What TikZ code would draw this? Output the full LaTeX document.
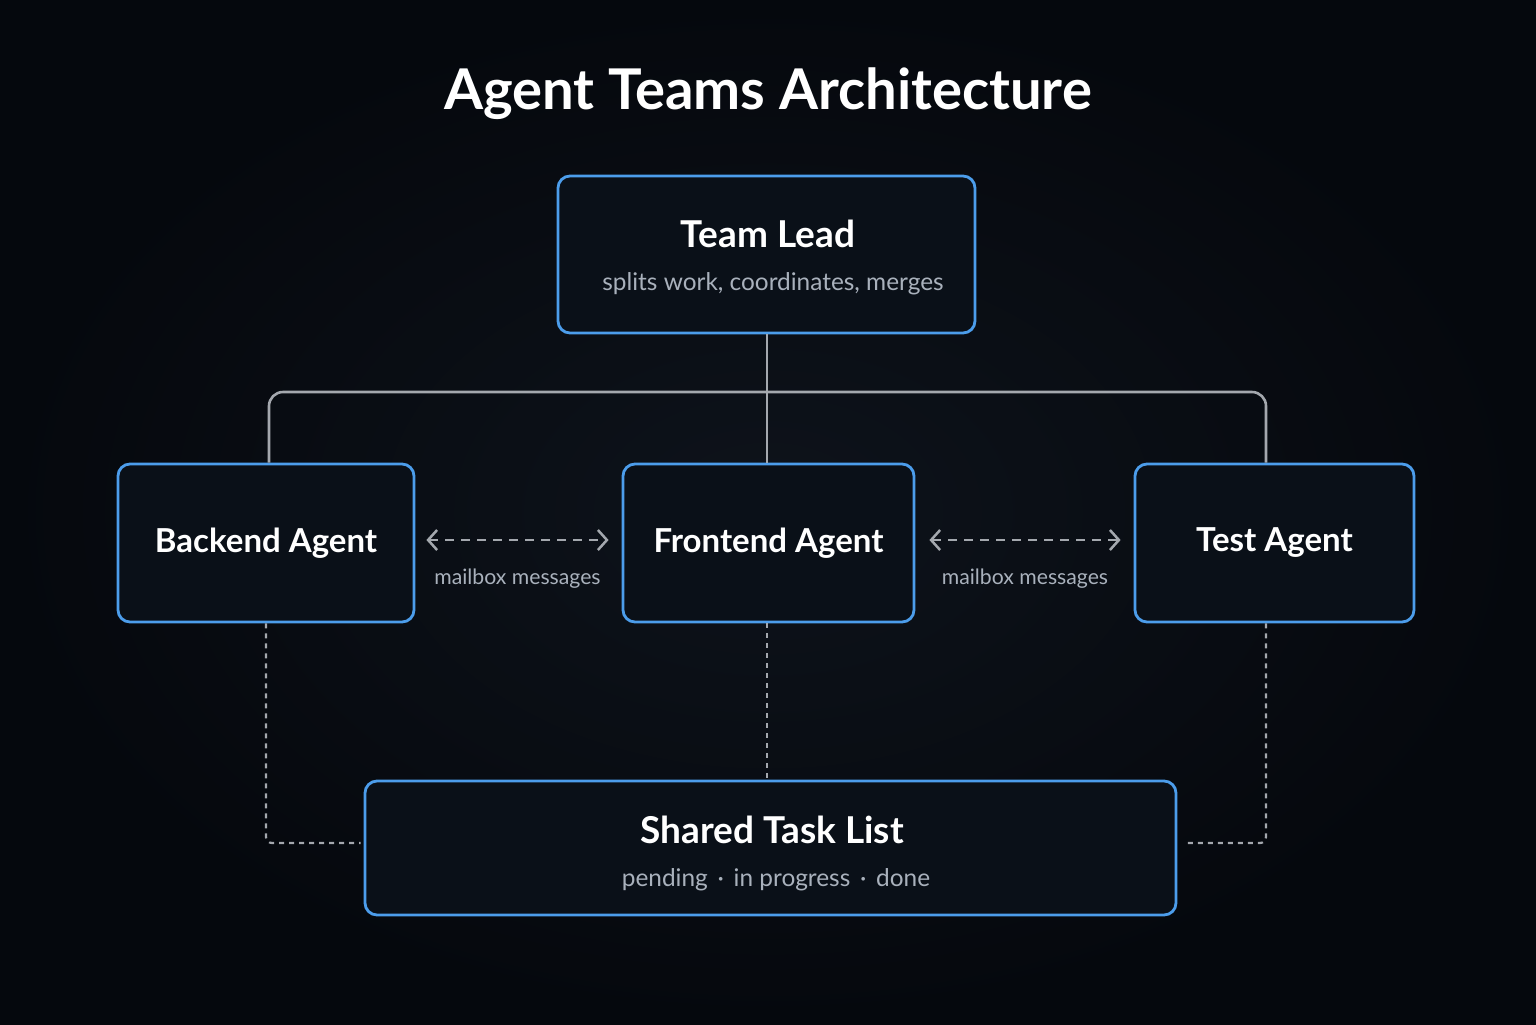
\documentclass[tikz,border=0pt]{standalone}
\usepackage{fontspec}
\setmainfont{Lato}
\usepackage{tikz}
\usetikzlibrary{arrows.meta,positioning}
\definecolor{PageInk}{HTML}{05080D}
\definecolor{PageGlow}{HTML}{0E131B}
\definecolor{BoxFill}{HTML}{0A1018}
\definecolor{BoxBlue}{HTML}{4C9DEB}
\definecolor{LinkGrey}{HTML}{A4A8AE}
\definecolor{NoteGrey}{HTML}{A9B1BC}

\tikzset{
  agent/.style={draw=BoxBlue, line width=1.4pt, fill=BoxFill, rounded corners=6pt,
    minimum height=79pt, inner sep=0pt, text=white, font=\bfseries\fontsize{16.5}{20}\selectfont},
  headline/.style={text=white, inner sep=0pt, font=\bfseries\fontsize{18.5}{22}\selectfont},
  subline/.style={text=NoteGrey, inner sep=0pt, font=\fontsize{12.2}{15}\selectfont},
  tree/.style={LinkGrey, line width=1.3pt, rounded corners=7pt},
  mail/.style={LinkGrey, line width=1.25pt, dash pattern=on 4.5pt off 3.5pt,
    {Straight Barb[length=4.5pt,width=10pt]}-{Straight Barb[length=4.5pt,width=10pt]}},
  mailnote/.style={text=NoteGrey, font=\fontsize{10.6}{13}\selectfont},
  taskline/.style={LinkGrey, line width=1.1pt, dash pattern=on 2.5pt off 2.5pt, rounded corners=3pt},
}

\begin{document}
\begin{tikzpicture}[x=0.5pt,y=-0.5pt]
  % page
  \shade[inner color=PageGlow, outer color=PageInk] (0,0) rectangle (1536,1024);
  \useasboundingbox (0,0) rectangle (1536,1024);

  \node[text=white, font=\bfseries\fontsize{28.1}{34}\selectfont] (heading) at (768,94) {Agent Teams Architecture};

  % boxes
  \node[agent, minimum width=208.5pt, minimum height=78.5pt] (lead) at (766.5,254.5) {};
  \node[headline] (leadname) at (768,234) {Team Lead};
  \node[subline] (leadnote) at (773,284) {splits work, coordinates, merges};

  \node[agent, minimum width=148pt] (backend) at (266,543) {Backend Agent};
  \node[agent, minimum width=145.5pt] (frontend) at (768.5,543) {Frontend Agent};
  \node[agent, minimum width=139.5pt] (tester) at (1274.5,543) {Test Agent};

  \node[agent, minimum width=405.5pt, minimum height=67pt] (tasks) at (770.5,848) {};
  \node[headline] (tasksname) at (772,830) {Shared Task List};
  \node[subline] (tasksnote) at (776,880)
    {pending\hspace{0.4em}·\hspace{0.4em}in progress\hspace{0.4em}·\hspace{0.4em}done};

  % lead to agents
  \coordinate (split) at (767,392);
  \draw[tree] (split |- lead.south) -- (split);
  \draw[tree] (split) -| ([xshift=1.5pt]backend.north);
  \draw[tree] (split) -- (split |- frontend.north);
  \draw[tree] (split) -| ([xshift=-4.25pt]tester.north);

  % mailboxes
  \draw[mail] ([shift={(5.5pt,1.5pt)}]backend.east) --
    node[mailnote, yshift=-19.5pt] {mailbox messages} ([shift={(-6.5pt,1.5pt)}]frontend.west);
  \draw[mail] ([shift={(7pt,1.5pt)}]frontend.east) --
    node[mailnote, yshift=-19.5pt] {mailbox messages} ([shift={(-6.5pt,1.5pt)}]tester.west);

  % agents to task list
  \draw[taskline] (backend.south) |- ([shift={(-1.5pt,2.5pt)}]tasks.west);
  \draw[taskline] (split |- frontend.south) -- (split |- tasks.north);
  \draw[taskline] ([xshift=-4.25pt]tester.south) |- ([shift={(3.5pt,2.5pt)}]tasks.east);
\end{tikzpicture}
\end{document}
